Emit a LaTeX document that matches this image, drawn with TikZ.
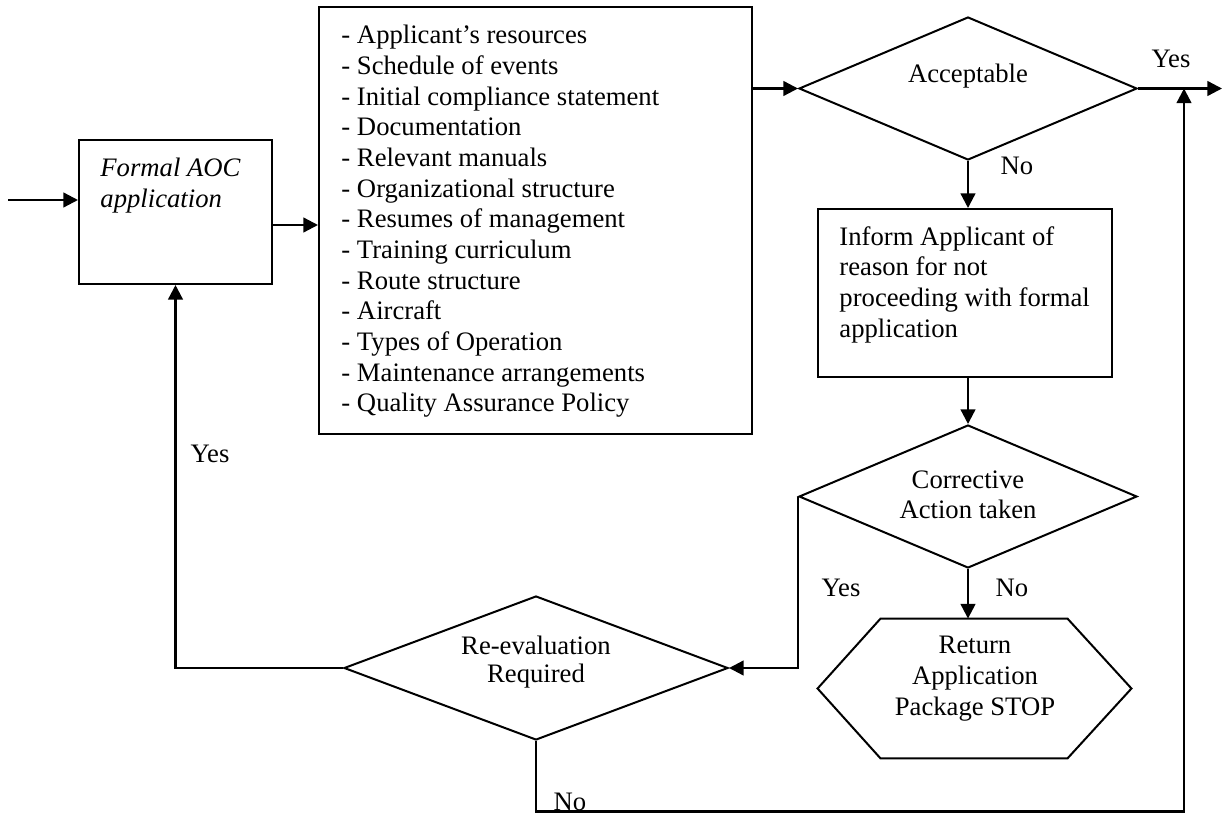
\documentclass[tikz,border=0pt]{standalone}
\usepackage{fontspec}
\setmainfont{Liberation Serif}
\usetikzlibrary{calc, shapes.geometric, positioning, arrows.meta}
\tikzset{
	procbox/.style={draw, line width=0.9pt, inner sep=0pt},
	decision/.style={draw, diamond, line width=0.9pt, inner sep=0pt, aspect=2.4},
	flowline/.style={line width=1.05pt, -{Triangle[length=6.6pt, width=6.6pt]}},
	txt/.style={inner sep=0pt, font=\fontsize{12}{13.8}\selectfont},
}

\begin{document}
\begin{tikzpicture}[x=0.45pt, y=-0.45pt]
	\useasboundingbox (0,0) rectangle (1222,813);
	% boxes and decisions
	\node[procbox, minimum width=86.85pt, minimum height=64.8pt] (formal) at (175.5,212) {};
	\node[procbox, minimum width=194.85pt, minimum height=192.15pt] (list) at (535.5,220.5) {};
	\node[procbox, minimum width=132.3pt, minimum height=75.6pt] (inform) at (965,293) {};
	\node[decision, minimum width=152.1pt, minimum height=64.35pt] (ok) at (968,88.5) {};
	\node[decision, minimum width=152.1pt, minimum height=64.35pt] (fix) at (968,496.5) {};
	\node[decision, minimum width=172.8pt, minimum height=64.8pt] (re) at (536,668) {};
	\node[inner sep=0pt, minimum width=140.85pt, minimum height=62.55pt] (stop) at (974.5,688.5) {};
	\draw[line width=0.9pt] (stop.west) -- ($(stop.north west)+(63,0)$) -- ($(stop.north east)+(-64,0)$)
		-- (stop.east) -- ($(stop.south east)+(-64,0)$) -- ($(stop.south west)+(63,0)$) -- cycle;
	% texts
	\node[txt, anchor=north west, align=left, font=\fontsize{12}{13.8}\selectfont\itshape] (formaltext) at (100,158) {Formal AOC\\application};
	\node[txt, anchor=north west, align=left] (listtext) at (341,25) {- Applicant’s resources\\- Schedule of events\\- Initial compliance statement\\- Documentation\\- Relevant manuals\\- Organizational structure\\- Resumes of management\\- Training curriculum\\- Route structure\\- Aircraft\\- Types of Operation\\- Maintenance arrangements\\- Quality Assurance Policy};
	\node[txt, anchor=north west, align=left] (informtext) at (839,226) {Inform Applicant of\\reason for not\\proceeding with formal\\application};
	\node[txt, anchor=base] (oktext) at (968,83) {Acceptable};
	\node[txt, anchor=north, align=center] (fixtext) at (968,470) {Corrective\\Action taken};
	\node[txt, anchor=north, align=center, font=\fontsize{12}{12.2}\selectfont] (retext) at (536,636) {Re-evaluation\\Required};
	\node[txt, anchor=north, align=center] (stoptext) at (975,636) {Return\\Application\\Package STOP};
	% connectors
	\coordinate (in) at (8,200);
	\coordinate (out) at (1222,88.5);
	\coordinate (join) at (1184,88.5);
	\coordinate (corner) at (1184,811.5);
	\draw[flowline] (in) -- (in -| formal.west);
	\draw[flowline] ([yshift=-5.85pt]formal.east) coordinate (f1) -- (f1 -| list.west);
	\draw[flowline] (list.east |- ok.west) -- (ok.west);
	\draw[flowline] (ok.east) -- (out);
	\draw[flowline] (ok.south) -- (ok.south |- inform.north);
	\draw[flowline] (inform.south -| fix.north) -- (fix.north);
	\draw[flowline] (fix.south) -- (fix.south |- stop.north);
	\draw[flowline] (fix.west) |- (re.east);
	\draw[flowline] (re.west) -| (formal.south);
	\draw[flowline] (re.south) |- (corner) -- (join);
	% labels
	\node[txt, anchor=base] (yes1) at (1171,68) {Yes};
	\node[txt, anchor=base] (no1) at (1017,174) {No};
	\node[txt, anchor=base] (yes2) at (841,596) {Yes};
	\node[txt, anchor=base] (no2) at (1012,596) {No};
	\node[txt, anchor=base] (yes3) at (210,462) {Yes};
	\node[txt, anchor=base] (no3) at (570,810) {No};
\end{tikzpicture}
\end{document}
